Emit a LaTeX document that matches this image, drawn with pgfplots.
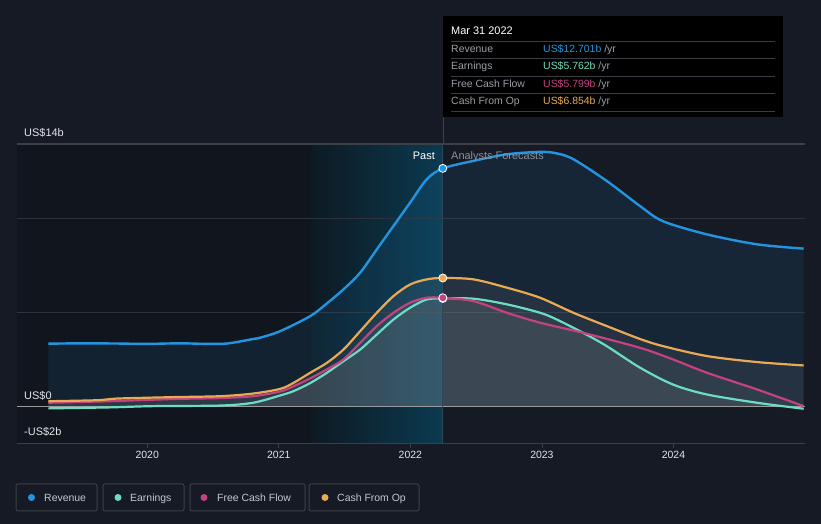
\documentclass[border=0pt]{standalone}
\usepackage{fontspec}
\setmainfont{Liberation Sans}
\usepackage{pgfplots}
\usepackage{pgfplotstable}
\pgfplotsset{compat=1.18}
\definecolor{bg}{HTML}{151A24}
\definecolor{leftc}{HTML}{11161E}
\definecolor{hlL}{HTML}{0D1A23}
\definecolor{hlR}{HTML}{0B3A50}
\definecolor{gridc}{HTML}{2C313A}
\definecolor{axc}{HTML}{3A3F48}
\definecolor{zeroc}{HTML}{9A9A9A}
\definecolor{revc}{HTML}{2394DF}
\definecolor{earnc}{HTML}{6CDDC4}
\definecolor{fcfc}{HTML}{C4427F}
\definecolor{cfoc}{HTML}{EAAA55}
\definecolor{tickc}{HTML}{E2E4E8}
\definecolor{legc}{HTML}{C4C8CF}
\definecolor{labc}{HTML}{9A9EA6}
\definecolor{sepc}{HTML}{3A3D44}
\definecolor{vlc}{HTML}{2B4658}
\definecolor{fcc}{HTML}{8B9099}

\pgfplotstableread{
x y
2019.248 3.35
2019.5 3.37
2019.75 3.36
2020.0 3.34
2020.25 3.37
2020.45 3.34
2020.608 3.36
2020.805 3.6
2020.859 3.67
2021.011 4.02
2021.239 4.82
2021.366 5.5
2021.492 6.25
2021.619 7.14
2021.745 8.38
2021.872 9.63
2021.999 10.88
2022.125 12.12
2022.247 12.70
2022.48 13.1
2022.733 13.45
2022.986 13.58
2023.113 13.5
2023.239 13.19
2023.493 12.03
2023.746 10.69
2023.921 9.88
2024.255 9.18
2024.635 8.65
2024.99 8.42
}\revenue

\pgfplotstableread{
x y
2019.248 0.28
2019.6 0.33
2019.7 0.38
2019.795 0.43
2020.2 0.5
2020.555 0.55
2020.805 0.69
2021.011 0.94
2021.112 1.26
2021.239 1.8
2021.366 2.33
2021.492 3.04
2021.619 4.02
2021.745 5.0
2021.872 5.89
2021.999 6.51
2022.125 6.78
2022.247 6.854
2022.48 6.78
2022.733 6.34
2022.986 5.8
2023.239 5.0
2023.493 4.29
2023.746 3.6
2023.921 3.22
2024.255 2.69
2024.635 2.37
2024.99 2.19
}\cfo

\pgfplotstableread{
x y
2019.248 0.2
2019.7 0.28
2020.2 0.4
2020.555 0.45
2020.805 0.55
2021.011 0.8
2021.112 1.08
2021.239 1.5
2021.366 1.98
2021.492 2.51
2021.619 3.4
2021.745 4.29
2021.872 5.0
2021.999 5.54
2022.125 5.8
2022.247 5.799
2022.48 5.62
2022.733 5.0
2022.986 4.47
2023.313 3.93
2023.746 3.13
2023.997 2.51
2024.255 1.8
2024.635 0.91
2024.99 0.02
}\fcf

\pgfplotstableread{
x y
2019.248 -0.1
2019.7 -0.05
2020.046 0.02
2020.555 0.05
2020.805 0.2
2021.011 0.59
2021.112 0.82
2021.239 1.25
2021.366 1.8
2021.492 2.42
2021.619 3.04
2021.745 3.84
2021.872 4.64
2021.999 5.27
2022.125 5.71
2022.247 5.762
2022.48 5.75
2022.733 5.45
2022.986 5.0
2023.113 4.64
2023.313 3.93
2023.493 3.22
2023.746 2.07
2023.997 1.17
2024.255 0.64
2024.635 0.2
2024.99 -0.12
}\earn

\begin{document}
\begin{tikzpicture}
\fill[bg] (0,0) rectangle (821bp,524bp);
\begin{axis}[
  at={(17bp,80bp)}, anchor=south west, scale only axis,
  width=788bp, height=300bp,
  xmin=2019.01, xmax=2025, ymin=-2, ymax=14,
  axis line style={draw=none},
  ytick=\empty,
  xtick={2020,2021,2022,2023,2024},
  xticklabels={2020,2021,2022,2023,2024},
  xtick pos=lower, tick align=outside, major tick length=4bp,
  tick style={draw=axc, line width=0.8bp},
  x tick label style={text=tickc, font=\fontsize{10.5}{12}\selectfont},
]
\fill[leftc] (axis cs:2019.01,-2) rectangle (axis cs:2021.246,14);
\shade[left color=hlL, right color=hlR] (axis cs:2021.246,-2) rectangle (axis cs:2022.247,14);
\draw[gridc, line width=1bp] (axis cs:2019.01,5) -- (axis cs:2025,5);
\draw[gridc, line width=1bp] (axis cs:2019.01,10) -- (axis cs:2025,10);
\draw[axc, line width=1.2bp] (axis cs:2019.01,14) -- (axis cs:2025,14);
\draw[axc, line width=1.2bp] (axis cs:2019.01,-2) -- (axis cs:2025,-2);

\addplot[draw=none, fill=revc, fill opacity=0.1, smooth] table {\revenue} \closedcycle;
\addplot[draw=none, fill=gray!80, fill opacity=0.11, smooth] table {\cfo} \closedcycle;
\addplot[draw=none, fill=gray!80, fill opacity=0.11, smooth] table {\fcf} \closedcycle;
\addplot[draw=none, fill=gray!80, fill opacity=0.11, smooth] table {\earn} \closedcycle;

\draw[zeroc, line width=1.8bp] (axis cs:2019.01,0) -- (axis cs:2025,0);
\draw[vlc, line width=1bp] (axis cs:2022.247,-2) -- (axis cs:2022.247,14);

\addplot[earnc, line width=2.2bp, smooth] table {\earn};
\addplot[fcfc, line width=2.2bp, smooth] table {\fcf};
\addplot[cfoc, line width=2.2bp, smooth] table {\cfo};
\addplot[revc, line width=2.4bp, smooth] table {\revenue};

\addplot[only marks, mark=*, mark size=4bp, mark options={fill=revc, draw=white, line width=0.8bp}] coordinates {(2022.247,12.701)};
\addplot[only marks, mark=*, mark size=4bp, mark options={fill=cfoc, draw=white, line width=0.8bp}] coordinates {(2022.247,6.854)};
\addplot[only marks, mark=*, mark size=4bp, mark options={fill=earnc, draw=white, line width=0.8bp}] coordinates {(2022.247,5.762)};
\addplot[only marks, mark=*, mark size=4bp, mark options={fill=fcfc, draw=white, line width=0.8bp}] coordinates {(2022.247,5.799)};
\end{axis}

% hover line up to tooltip
\draw[vlc, line width=1bp] (443bp,380bp) -- (443bp,408bp);

% y labels
\begin{scope}[every node/.style={inner sep=0pt, font=\fontsize{11}{13}\selectfont, text=tickc}]
\node[anchor=base west] at (24bp,387.5bp) {US\$14b};
\node[anchor=base west] at (24bp,124.5bp) {US\$0};
\node[anchor=base west] at (24bp,88bp) {-US\$2b};
\node[anchor=base east, text=white] at (435bp,364bp) {Past};
\node[anchor=base west, text=fcc] at (451bp,364bp) {Analysts Forecasts};
\end{scope}

% tooltip
\fill[black] (443bp,407bp) rectangle (783bp,508bp);
\begin{scope}[every node/.style={inner sep=0pt, font=\fontsize{10.5}{12}\selectfont}]
\node[anchor=base west, text=white, font=\fontsize{11}{13}\selectfont] at (451bp,489bp) {Mar 31 2022};
\foreach \yy in {482.7,465.7,448,430.7,413} {\draw[sepc, line width=0.8bp] (451bp,\yy bp) -- (775bp,\yy bp);}
\node[anchor=base west, text=labc] at (451bp,471.3bp) {Revenue};
\node[anchor=base west, text=labc] at (451bp,454bp) {Earnings};
\node[anchor=base west, text=labc] at (451bp,436.3bp) {Free Cash Flow};
\node[anchor=base west, text=labc] at (451bp,419bp) {Cash From Op};
\node[anchor=base west] at (543bp,471.3bp) {\textcolor{revc}{US\$12.701b} \textcolor{labc}{/yr}};
\node[anchor=base west] at (543bp,454bp) {\textcolor{earnc}{US\$5.762b} \textcolor{labc}{/yr}};
\node[anchor=base west] at (543bp,436.3bp) {\textcolor{fcfc}{US\$5.799b} \textcolor{labc}{/yr}};
\node[anchor=base west] at (543bp,419bp) {\textcolor{cfoc}{US\$6.854b} \textcolor{labc}{/yr}};
\end{scope}

% legend
\begin{scope}[every node/.style={inner sep=0pt, font=\fontsize{10.5}{12}\selectfont, text=legc}]
\draw[axc, line width=1bp, rounded corners=2bp] (16bp,13bp) rectangle (97bp,40bp);
\fill[revc] (31.5bp,26.5bp) circle (3.5bp);
\node[anchor=base west] at (44bp,22.5bp) {Revenue};
\draw[axc, line width=1bp, rounded corners=2bp] (103bp,13bp) rectangle (184bp,40bp);
\fill[earnc] (118bp,26.5bp) circle (3.5bp);
\node[anchor=base west] at (130bp,22.5bp) {Earnings};
\draw[axc, line width=1bp, rounded corners=2bp] (190bp,13bp) rectangle (305bp,40bp);
\fill[fcfc] (204bp,26.5bp) circle (3.5bp);
\node[anchor=base west] at (217bp,22.5bp) {Free Cash Flow};
\draw[axc, line width=1bp, rounded corners=2bp] (309bp,13bp) rectangle (419bp,40bp);
\fill[cfoc] (325bp,26.5bp) circle (3.5bp);
\node[anchor=base west] at (337bp,22.5bp) {Cash From Op};
\end{scope}
\useasboundingbox (0,0) rectangle (821bp,524bp);
\end{tikzpicture}
\end{document}
